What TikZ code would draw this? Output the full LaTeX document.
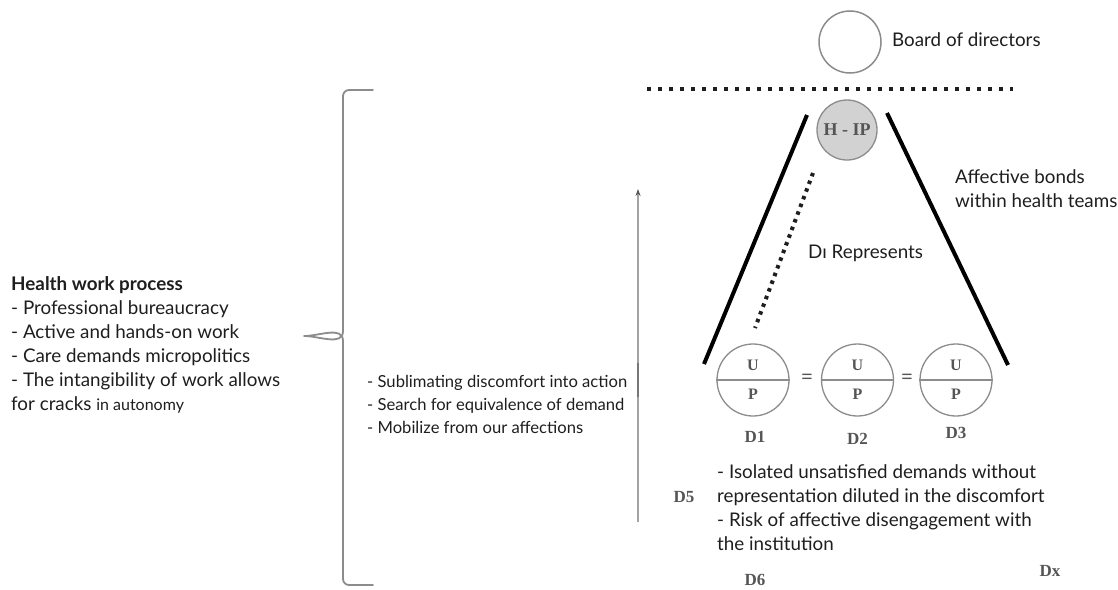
\documentclass[tikz,border=0pt]{standalone}
\usepackage{fontspec}
\setmainfont{Lato}
\newfontfamily\serifd{Liberation Serif}
\usetikzlibrary{arrows.meta}
\definecolor{ink}{HTML}{1E1E1E}
\definecolor{sgray}{HTML}{555555}
\definecolor{lgray}{HTML}{8C8C8C}
\begin{document}
\begin{tikzpicture}[x=1pt,y=-1pt,
  txt/.style={inner sep=0pt, anchor=base west, align=left, text=ink,
    font=\fontsize{18.8}{24}\selectfont},
  smalltxt/.style={inner sep=0pt, anchor=base west, align=left, text=ink,
    font=\fontsize{16.6}{23}\selectfont},
  dlabel/.style={inner sep=0pt, text=sgray, font=\serifd\bfseries\fontsize{17}{17}\selectfont},
  uplabel/.style={inner sep=0pt, text=sgray, font=\serifd\bfseries\fontsize{16}{16}\selectfont},
  upcircle/.style={circle, draw=lgray, line width=1.3pt, minimum size=72pt, inner sep=0pt},
  thick line/.style={line width=4pt, draw=black},
  dotline/.style={line width=4pt, draw=ink}]
\useasboundingbox (0,0) rectangle (1118,589);

% board of directors
\node[circle, draw=lgray, line width=1.5pt, minimum size=62pt, inner sep=0pt] (board) at (850,42) {};
\node[txt] (boardtxt) at (892,46) {Board of directors};

% dotted separator
\coordinate (sepL) at (647,89);
\coordinate (sepR) at (1013,89);
\draw[dotline, dash pattern=on 4pt off 7pt] (sepL) -- (sepR);

% H-IP
\node[circle, draw=lgray, fill=gray!35, line width=1.3pt, minimum size=60pt, inner sep=0pt,
      text=sgray, font=\serifd\bfseries\fontsize{18}{18}\selectfont] (hip) at (847,130) {H - IP};

% triangle lines
\coordinate (lt) at (807,115);
\coordinate (lb) at (704,364);
\coordinate (rt) at (887,113);
\coordinate (rb) at (1008,365);
\draw[thick line] (lt) -- (lb);
\draw[thick line] (rt) -- (rb);

% dotted representation line
\coordinate (dt) at (813,173);
\coordinate (db) at (755,328);
\draw[dotline, dash pattern=on 3.5pt off 4.7pt] (dt) -- (db);
\node[txt] (rep) at (808,258) {D\i\ Represents};

% two lines: base anchor is at the last line
\node[txt] (aff) at (955,207) {Affective bonds\\within health teams};

% U/P circles
\foreach \n/\x in {c1/753, c2/857.5, c3/956}{
  \node[upcircle] (\n) at (\x,380) {};
  \draw[lgray, line width=1.2pt] (\n.west) -- (\n.east);
  \node[uplabel] at (\x,365) {U};
  \node[uplabel] at (\x,394) {P};
}
\node[uplabel, font=\serifd\bfseries\fontsize{20}{20}\selectfont] (eq1) at (807,379) {=};
\node[uplabel, font=\serifd\bfseries\fontsize{20}{20}\selectfont] (eq2) at (907,379) {=};

\node[dlabel] (d1) at (755,437) {D1};
\node[dlabel] (d2) at (857.5,439) {D2};
\node[dlabel] (d3) at (956,433) {D3};
\node[dlabel] (d5) at (684,497) {D5};
\node[dlabel] (d6) at (755,580) {D6};
\node[dlabel] (dx) at (1050,571) {Dx};

% vertical arrow
\coordinate (ab) at (638,522);
\coordinate (at) at (638,189);
\draw[lgray!80, line width=1.3pt, -{Stealth[length=7pt,width=5pt,color=sgray]}] (ab) -- (at);
\draw[sgray!80, line width=2pt] (638,363) -- (638,397);

% brace
\draw[lgray, line width=1.8pt, line cap=round, line join=round]
  (373,90) -- (349,90) to[out=180,in=90] (343,96) -- (343,331)
  to[out=270,in=0] (304,336) to[out=0,in=90] (343,341) -- (343,579)
  to[out=270,in=180] (349,585) -- (373,585);

% texts (base anchor = last line baseline)
\node[txt] (left) at (11,410) {\textbf{Health work process}\\- Professional bureaucracy\\- Active and hands-on work\\- Care demands micropolitics\\- The intangibility of work allows\\for cracks {\fontsize{16}{16}\selectfont in autonomy}};
\node[smalltxt] (mid) at (367,433) {- Sublimating discomfort into action\\- Search for equivalence of demand\\- Mobilize from our affections};
\node[txt] (iso) at (717,550) {- Isolated unsatisfied demands without\\representation diluted in the discomfort\\- Risk of affective disengagement with\\the institution};
\end{tikzpicture}
\end{document}
